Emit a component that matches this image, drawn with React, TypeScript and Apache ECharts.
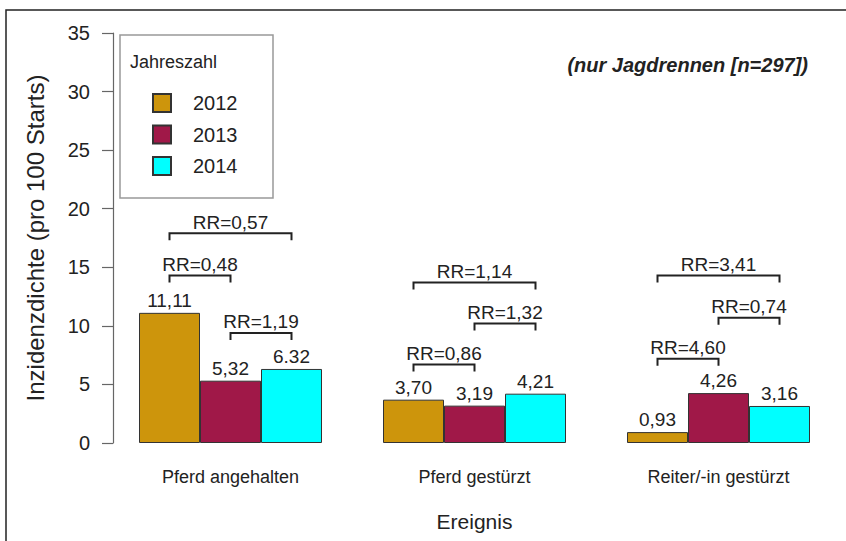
import React, { useEffect, useRef } from "react";
import * as echarts from "echarts";

const categories = ["Pferd angehalten", "Pferd gestürzt", "Reiter/-in gestürzt"];
const years = ["2012", "2013", "2014"];
const values2012 = [11.11, 3.7, 0.93];
const values2013 = [5.32, 3.19, 4.26];
const values2014 = [6.32, 4.21, 3.16];
const labels2012 = ["11,11", "3,70", "0,93"];
const labels2013 = ["5,32", "3,19", "4,26"];
const labels2014 = ["6.32", "4,21", "3,16"];
const yTicks = [0, 5, 10, 15, 20, 25, 30, 35];

// brackets: [category index, from bar, to bar, level (y units)]
const bracketGroups = [0, 0, 0, 1, 1, 1, 2, 2, 2];
const bracketFrom = [0, 0, 1, 0, 1, 0, 0, 1, 0];
const bracketTo = [2, 1, 2, 2, 2, 1, 2, 2, 1];
const bracketLevels = [17.9, 14.3, 9.4, 13.7, 10.2, 6.7, 14.3, 10.7, 7.2];
const bracketLabels = ["RR=0,57", "RR=0,48", "RR=1,19", "RR=1,14", "RR=1,32", "RR=0,86", "RR=3,41", "RR=0,74", "RR=4,60"];

const colors = ["#CD950C", "#A01848", "#00FFFF"];
const FONT = "Liberation Sans, Arial, sans-serif";

export default function App() {
  const ref = useRef<HTMLDivElement>(null);
  useEffect(() => {
    if (!ref.current) return;
    const chart = echarts.init(ref.current, undefined, { renderer: "svg" });
    const seriesValues = [values2012, values2013, values2014];
    const seriesLabels = [labels2012, labels2013, labels2014];
    const bars = years.map((y, i) => ({
      name: y,
      type: "bar",
      data: seriesValues[i],
      barWidth: 61,
      barGap: "0%",
      itemStyle: { color: colors[i], borderColor: "#333", borderWidth: 1 },
      label: {
        show: true,
        position: "top",
        distance: 3,
        fontFamily: FONT,
        fontSize: 19,
        color: "#222",
        formatter: (p: any) => seriesLabels[i][p.dataIndex],
      },
      emphasis: { disabled: true },
    }));
    const bracketData = bracketGroups.map((g, i) => [g, bracketFrom[i], bracketTo[i], bracketLevels[i]]);
    const option: any = {
      animation: false,
      backgroundColor: "#fff",
      textStyle: { fontFamily: FONT },
      grid: { left: 108.5, width: 732, top: 33, height: 410, containLabel: false },
      legend: {
        data: years,
        orient: "vertical",
        left: 152,
        top: 93,
        icon: "rect",
        itemWidth: 18,
        itemHeight: 18,
        itemGap: 11.5,
        padding: 0,
        selectedMode: false,
        textStyle: { fontFamily: FONT, fontSize: 20, color: "#222", padding: [0, 0, 0, 17] },
      },
      xAxis: {
        type: "category",
        data: categories,
        axisLine: { show: false },
        axisTick: { show: false },
        axisLabel: { fontFamily: FONT, fontSize: 18, color: "#222", margin: 25 },
        name: "Ereignis",
        nameLocation: "middle",
        nameGap: 68,
        nameTextStyle: { fontFamily: FONT, fontSize: 21, color: "#222" },
      },
      yAxis: {
        type: "value",
        min: 0,
        max: 35,
        interval: 5,
        offset: -4.5,
        axisLine: { show: true, lineStyle: { color: "#666", width: 1.2 } },
        axisTick: { show: true, length: 11, lineStyle: { color: "#666", width: 1.2 } },
        splitLine: { show: false },
        axisLabel: {
          fontFamily: FONT,
          fontSize: 20,
          color: "#222",
          margin: 23,
          formatter: (v: number) => (yTicks.includes(v) ? String(v) : ""),
        },
        name: "Inzidenzdichte (pro 100 Starts)",
        nameLocation: "middle",
        nameGap: 66,
        nameTextStyle: { fontFamily: FONT, fontSize: 24, color: "#222" },
      },
      series: [
        ...bars,
        {
          type: "custom",
          name: "brackets",
          data: bracketData,
          encode: { x: 0, y: 3 },
          silent: true,
          renderItem: (params: any, api: any) => {
            const c = api.coord([api.value(0), api.value(3)]);
            const bw = api.size([1, 0])[0] / 4;
            const x1 = c[0] + (api.value(1) - 1) * bw;
            const x2 = c[0] + (api.value(2) - 1) * bw;
            const y = c[1];
            return {
              type: "group",
              children: [
                {
                  type: "polyline",
                  shape: { points: [[x1, y + 7], [x1, y], [x2, y], [x2, y + 7]] },
                  style: { stroke: "#222", lineWidth: 2, fill: null },
                },
                {
                  type: "text",
                  x: (x1 + x2) / 2,
                  y: y - 11,
                  style: {
                    text: bracketLabels[params.dataIndex],
                    fontFamily: FONT,
                    fontSize: 19,
                    fill: "#222",
                    align: "center",
                    verticalAlign: "middle",
                  },
                },
              ],
            };
          },
        },
      ],
      graphic: [
        {
          type: "rect",
          shape: { x: 6, y: 10, width: 900, height: 600 },
          style: { fill: "none", stroke: "#222", lineWidth: 1.5 },
          silent: true,
        },
        {
          type: "rect",
          shape: { x: 120, y: 35, width: 153, height: 163 },
          style: { fill: "#fff", stroke: "#999", lineWidth: 1.5 },
          z: -1,
          silent: true,
        },
        {
          type: "text",
          x: 130,
          y: 62,
          style: { text: "Jahreszahl", fontFamily: FONT, fontSize: 18, fill: "#222", verticalAlign: "middle" },
          silent: true,
        },
        {
          type: "text",
          x: 808,
          y: 65,
          style: {
            text: "(nur Jagdrennen [n=297])",
            fontFamily: FONT,
            fontSize: 20,
            fontWeight: "bold",
            fontStyle: "italic",
            fill: "#222",
            align: "right",
            verticalAlign: "middle",
          },
          silent: true,
        },
      ],
    };
    chart.setOption(option);
    return () => chart.dispose();
  }, []);
  return <div ref={ref} style={{ position: "fixed", left: 0, top: 0, width: 846, height: 541 }} />;
}
